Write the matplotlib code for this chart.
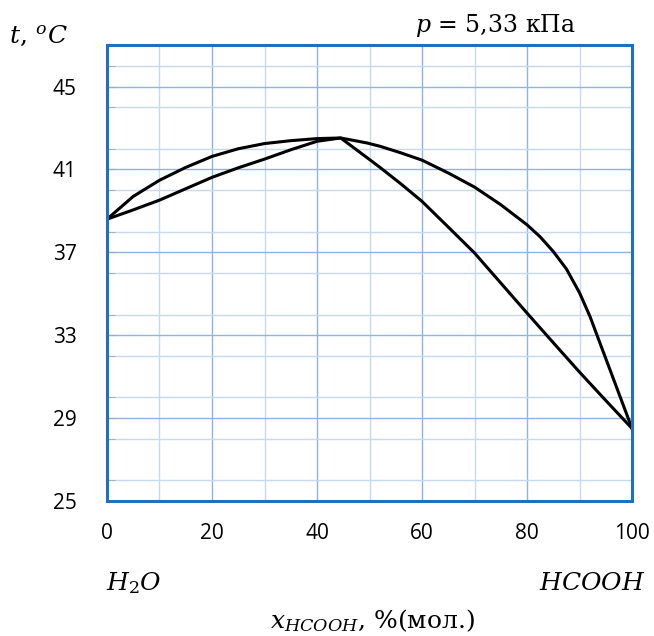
import matplotlib.pyplot as plt
from matplotlib.ticker import MultipleLocator

# vapour (upper) curve
x_vap = [0, 5, 10, 15, 20, 25, 30, 35, 40, 44.5, 49.5, 52, 56, 60, 65, 70,
         75, 80, 82.5, 85, 87.5, 90, 92, 94, 96, 98, 100]
t_vap = [38.6, 39.7, 40.48, 41.1, 41.63, 42.0, 42.25, 42.39, 42.49, 42.52,
         42.28, 42.12, 41.8, 41.45, 40.83, 40.15, 39.3, 38.33, 37.75, 37.04,
         36.2, 35.05, 33.9, 32.55, 31.2, 29.85, 28.5]

# liquid (lower) curve
x_liq = [0, 5, 10, 15, 20, 25, 30, 35, 40, 44.5, 48, 52, 56, 60, 65, 70, 75,
         80, 85, 90, 95, 100]
t_liq = [38.6, 39.05, 39.52, 40.07, 40.62, 41.08, 41.5, 41.95, 42.36, 42.52,
         41.86, 41.1, 40.3, 39.46, 38.22, 36.97, 35.52, 34.07, 32.64, 31.22,
         29.85, 28.5]

xticks = [0, 20, 40, 60, 80, 100]
yticks = [25, 29, 33, 37, 41, 45]

plt.rcParams["mathtext.fontset"] = "dejavuserif"

fig = plt.figure(figsize=(6.54, 6.36), dpi=100)
ax = fig.add_axes([0.1636, 0.2123, 0.8028, 0.7167])

ax.plot(x_vap, t_vap, color="black", linewidth=2.2, solid_joinstyle="round")
ax.plot(x_liq, t_liq, color="black", linewidth=2.2, solid_joinstyle="round")

ax.set_xlim(0, 100)
ax.set_ylim(25, 47)
ax.set_xticks(xticks)
ax.set_yticks(yticks)
ax.xaxis.set_minor_locator(MultipleLocator(10))
ax.yaxis.set_minor_locator(MultipleLocator(2))

ax.grid(which="major", color="#8DB3E2", linewidth=1.0)
ax.grid(which="minor", color="#C6D9F1", linewidth=1.0)
ax.set_axisbelow(True)

for s in ax.spines.values():
    s.set_color("#1F70C1")
    s.set_linewidth(2.2)

ax.tick_params(axis="x", which="both", length=0, pad=16, labelsize=15)
ax.tick_params(axis="y", which="both", direction="in", length=6,
               color="#A6A6A6", pad=22, labelsize=15)
for lab in ax.get_xticklabels() + ax.get_yticklabels():
    lab.set_fontfamily("Open Sans")

fig.text(0.058, 0.943, r"$t,\,^{o}C$", fontsize=18, ha="center", va="center")
fig.text(0.757, 0.96, r"$p$ = 5,33 кПа", fontsize=17, ha="center",
         va="center", family="DejaVu Serif")
fig.text(0.162, 0.083, r"$H_2O$", fontsize=18, ha="left", va="center")
fig.text(0.987, 0.083, r"$HCOOH$", fontsize=18, ha="right", va="center")
fig.text(0.57, 0.025, r"$x_{HCOOH}$, %(мол.)", fontsize=18, ha="center",
         va="center", family="DejaVu Serif")

fig.savefig("out.png", dpi=100)
